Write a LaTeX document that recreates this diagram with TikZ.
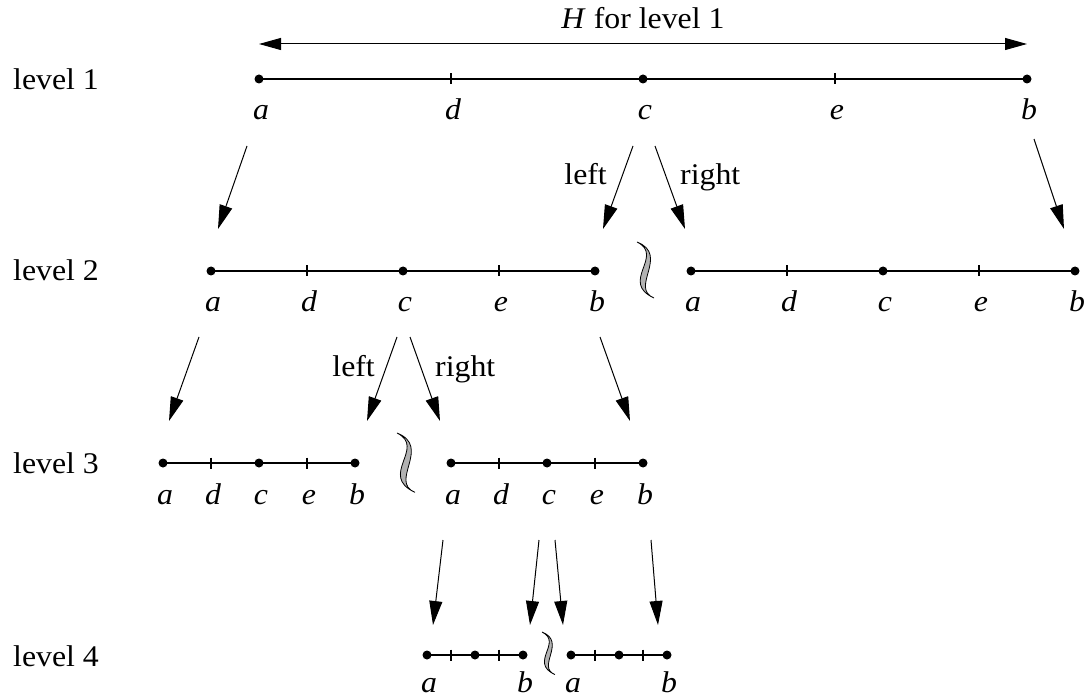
\documentclass[tikz,border=0pt]{standalone}
\usepackage{fontspec}
\setmainfont{Liberation Serif}
\usepackage{graphicx}
\usetikzlibrary{arrows.meta}
\newcommand{\stretchit}[1]{\scalebox{1.06}[1]{#1}}
% #1 name prefix, #2 x of a, #3 step, #4 y
\newcommand{\segline}[4]{%
  \coordinate (#1a) at (#2,#4);
  \coordinate (#1d) at (#2+#3,#4);
  \coordinate (#1c) at (#2+2*#3,#4);
  \coordinate (#1e) at (#2+3*#3,#4);
  \coordinate (#1b) at (#2+4*#3,#4);
  \draw[seg] (#1a) -- (#1b);
  \draw[seg] (#1d) ++(0,-5.5) -- ++(0,11);
  \draw[seg] (#1e) ++(0,-5.5) -- ++(0,11);
  \fill (#1a) circle (4.5pt);
  \fill (#1c) circle (4.5pt);
  \fill (#1b) circle (4.5pt);
}
% #1 prefix, #2 list, #3 drop below the line
\newcommand{\seglabels}[3]{%
  \foreach \p in {#2}{\node[lab] (#1l\p) at ([xshift=2pt,yshift=-#3pt]#1\p) {\stretchit{\p}};}%
}
\newcommand{\squig}[3]{%
  \begin{scope}[shift={(#1,#2)},scale=#3]
    \path[sq] (0,0) .. controls (28,14) and (-18,40) .. (17,56)
      .. controls (-8,46) and (33,13) .. (0,0) -- cycle;
  \end{scope}%
}
\begin{document}
\begin{tikzpicture}[x=1pt,y=-1pt,
  seg/.style={line width=1.4pt},
  arr/.style={line width=1pt,-{Triangle[length=24pt,width=13pt]}},
  harr/.style={line width=1pt,{Triangle[length=22pt,width=12pt]}-{Triangle[length=22pt,width=12pt]}},
  lab/.style={font=\fontsize{30}{36}\selectfont\itshape,anchor=base,inner sep=0pt},
  txt/.style={font=\fontsize{30}{36}\selectfont,inner sep=0pt},
  sq/.style={fill=black!30,draw=black,line width=0.8pt}]
\useasboundingbox (0,0) rectangle (1089,700);

% level names
\node[txt,anchor=base west] (lev1) at (13,90) {\stretchit{level 1}};
\node[txt,anchor=base west] (lev2) at (13,281) {\stretchit{level 2}};
\node[txt,anchor=base west] (lev3) at (13,473) {\stretchit{level 3}};
\node[txt,anchor=base west] (lev4) at (13,666) {\stretchit{level 4}};

% level 1
\segline{A}{259}{192}{79}
\seglabels{A}{a,d,c,e,b}{41}
\coordinate (Htl) at (259,44);
\coordinate (Htr) at (1027,44);
\draw[harr] (Htl) -- (Htr);
\node[txt,anchor=base] (Hlab) at (643,29) {\stretchit{\textit{H} for level 1}};

% level 2
\segline{B}{211}{96}{271}
\seglabels{B}{a,d,c,e,b}{41}
\segline{C}{691}{96}{271}
\seglabels{C}{a,d,c,e,b}{41}
\squig{637}{242}{1}

% level 3
\segline{D}{163}{48}{463}
\seglabels{D}{a,d,c,e,b}{41}
\segline{E}{451}{48}{463}
\seglabels{E}{a,d,c,e,b}{41}
\squig{397}{433}{1.06}

% level 4
\segline{F}{427}{24}{655}
\seglabels{F}{a,b}{37}
\segline{G}{571}{24}{655}
\seglabels{G}{a,b}{37}
\squig{542}{632}{0.76}

% arrows level 1 -> 2
\coordinate (s1) at (247,146); \coordinate (t1) at (218,229);
\coordinate (s2) at (633,146); \coordinate (t2) at (603,229);
\coordinate (s3) at (655,146); \coordinate (t3) at (685,229);
\coordinate (s4) at (1034,139); \coordinate (t4) at (1064,229);
\draw[arr] (s1) -- (t1);
\draw[arr] (s2) -- (t2);
\draw[arr] (s3) -- (t3);
\draw[arr] (s4) -- (t4);
\node[txt,anchor=base east] (left1) at (607,185) {\stretchit{left}};
\node[txt,anchor=base west] (right1) at (680,185) {\stretchit{right}};

% arrows level 2 -> 3
\coordinate (s5) at (199,337); \coordinate (t5) at (169,421);
\coordinate (s6) at (397,337); \coordinate (t6) at (367,421);
\coordinate (s7) at (410,337); \coordinate (t7) at (440,421);
\coordinate (s8) at (600,337); \coordinate (t8) at (630,421);
\draw[arr] (s5) -- (t5);
\draw[arr] (s6) -- (t6);
\draw[arr] (s7) -- (t7);
\draw[arr] (s8) -- (t8);
\node[txt,anchor=base east] (left2) at (375,377) {\stretchit{left}};
\node[txt,anchor=base west] (right2) at (435,377) {\stretchit{right}};

% arrows level 3 -> 4
\coordinate (s9) at (443,540); \coordinate (t9) at (433,625);
\coordinate (s10) at (539,540); \coordinate (t10) at (530,625);
\coordinate (s11) at (555,540); \coordinate (t11) at (563,625);
\coordinate (s12) at (651,540); \coordinate (t12) at (658,625);
\draw[arr] (s9) -- (t9);
\draw[arr] (s10) -- (t10);
\draw[arr] (s11) -- (t11);
\draw[arr] (s12) -- (t12);
\end{tikzpicture}
\end{document}
